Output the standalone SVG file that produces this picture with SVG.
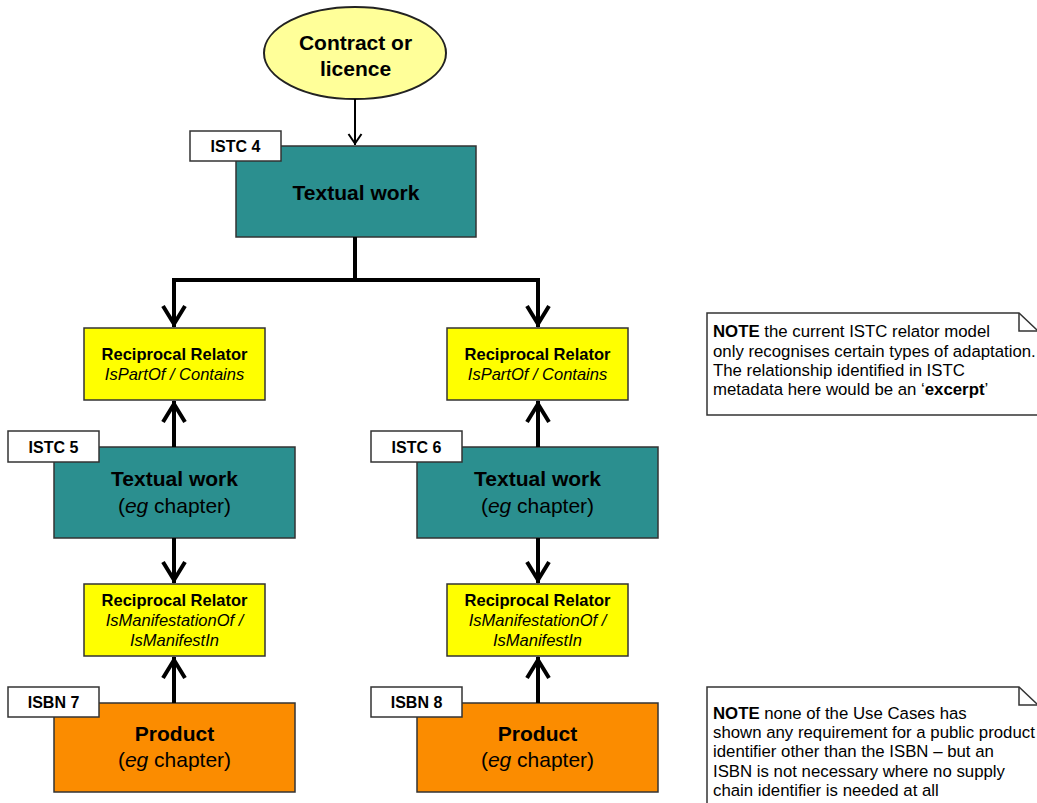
<svg xmlns="http://www.w3.org/2000/svg" width="1037" height="803" viewBox="0 0 1037 803">
<style>
text{font-family:"Liberation Sans",Arial,sans-serif;fill:#000}
.c{text-anchor:middle}
.b{font-weight:bold}
.i{font-style:italic}
.t21{font-size:21px}
.t16{font-size:16px;font-weight:bold}
.t165{font-size:16.5px}
.note{font-size:16.8px}
.work{fill:#2b8f8f;stroke:#333;stroke-width:1.5}
.rel{fill:#ffff00;stroke:#333;stroke-width:1.5}
.prod{fill:#fb8c00;stroke:#333;stroke-width:1.5}
.lbl{fill:#fff;stroke:#333;stroke-width:1.5}
.nbox{fill:#fff;stroke:#333;stroke-width:1.5}
.fold{fill:none;stroke:#333;stroke-width:1.5}
.thick{fill:none;stroke:#000;stroke-width:4;stroke-linejoin:miter}
.thin{fill:none;stroke:#000;stroke-width:2}
</style>
<defs>
<marker id="ah" viewBox="-26 -15 30 30" refX="0" refY="0" markerWidth="30" markerHeight="30" markerUnits="userSpaceOnUse" orient="auto">
<path d="M-21,-11 L-3,0 L-21,11" fill="none" stroke="#000" stroke-width="4"/>
</marker>
<marker id="ahs" viewBox="-14 -9 16 18" refX="0" refY="0" markerWidth="16" markerHeight="18" markerUnits="userSpaceOnUse" orient="auto">
<path d="M-11,-6.5 L-1.5,0 L-11,6.5" fill="none" stroke="#000" stroke-width="2"/>
</marker>
</defs>

<g id="contract">
<ellipse cx="355" cy="53" rx="91" ry="46" fill="#ffff99" stroke="#222" stroke-width="2"/>
<text class="c b t21" x="355.5" y="50">Contract or</text>
<text class="c b t21" x="355.5" y="76">licence</text>
</g>

<g id="work4">
<rect class="work" x="236" y="146" width="240" height="91"/>
<text class="c b t21" x="356" y="200">Textual work</text>
<rect class="lbl" x="190" y="131" width="91" height="30"/>
<text class="c t16" x="235.5" y="152">ISTC 4</text>
</g>

<g id="rel1">
<rect class="rel" x="84" y="328" width="181" height="72"/>
<text class="c b t165" x="174.5" y="360">Reciprocal Relator</text>
<text class="c i t165" x="174.5" y="380">IsPartOf / Contains</text>
</g>

<g id="rel2">
<rect class="rel" x="447" y="328" width="181" height="72"/>
<text class="c b t165" x="537.5" y="360">Reciprocal Relator</text>
<text class="c i t165" x="537.5" y="380">IsPartOf / Contains</text>
</g>

<g id="work5">
<rect class="work" x="54" y="447" width="241" height="91"/>
<text class="c b t21" x="174.5" y="486">Textual work</text>
<text class="c t21" x="174.5" y="513">(<tspan class="i">eg</tspan> chapter)</text>
<rect class="lbl" x="8" y="431" width="91" height="31"/>
<text class="c t16" x="53.5" y="452.5">ISTC 5</text>
</g>

<g id="work6">
<rect class="work" x="417" y="447" width="241" height="91"/>
<text class="c b t21" x="537.5" y="486">Textual work</text>
<text class="c t21" x="537.5" y="513">(<tspan class="i">eg</tspan> chapter)</text>
<rect class="lbl" x="371" y="431" width="91" height="31"/>
<text class="c t16" x="416.5" y="452.5">ISTC 6</text>
</g>

<g id="rel3">
<rect class="rel" x="84" y="584" width="181" height="72"/>
<text class="c b t165" x="174.5" y="606">Reciprocal Relator</text>
<text class="c i t165" x="174.5" y="626">IsManifestationOf /</text>
<text class="c i t165" x="174.5" y="646">IsManifestIn</text>
</g>

<g id="rel4">
<rect class="rel" x="447" y="584" width="181" height="72"/>
<text class="c b t165" x="537.5" y="606">Reciprocal Relator</text>
<text class="c i t165" x="537.5" y="626">IsManifestationOf /</text>
<text class="c i t165" x="537.5" y="646">IsManifestIn</text>
</g>

<g id="prod7">
<rect class="prod" x="54" y="703" width="241" height="89"/>
<text class="c b t21" x="174.5" y="741">Product</text>
<text class="c t21" x="174.5" y="767">(<tspan class="i">eg</tspan> chapter)</text>
<rect class="lbl" x="8" y="687" width="91" height="30"/>
<text class="c t16" x="53.5" y="708">ISBN 7</text>
</g>

<g id="prod8">
<rect class="prod" x="417" y="703" width="241" height="89"/>
<text class="c b t21" x="537.5" y="741">Product</text>
<text class="c t21" x="537.5" y="767">(<tspan class="i">eg</tspan> chapter)</text>
<rect class="lbl" x="371" y="687" width="91" height="30"/>
<text class="c t16" x="416.5" y="708">ISBN 8</text>
</g>

<g id="note1">
<path class="nbox" d="M707,313 H1019 L1038,331 V415 H707 Z"/>
<path class="fold" d="M1019,313 V331 H1038"/>
<text class="note" x="713" y="337"><tspan class="b">NOTE</tspan> the current ISTC relator model</text>
<text class="note" x="713" y="356.5">only recognises certain types of adaptation.</text>
<text class="note" x="713" y="376">The relationship identified in ISTC</text>
<text class="note" x="713" y="395">metadata here would be an ‘<tspan class="b">excerpt</tspan>’</text>
</g>

<g id="note2">
<path class="nbox" d="M707,687 H1019 L1038,705 V810 H707 Z"/>
<path class="fold" d="M1019,687 V705 H1038"/>
<text class="note" x="713" y="718.5"><tspan class="b">NOTE</tspan> none of the Use Cases has</text>
<text class="note" x="713" y="738">shown any requirement for a public product</text>
<text class="note" x="713" y="757">identifier other than the ISBN – but an</text>
<text class="note" x="713" y="776.5">ISBN is not necessary where no supply</text>
<text class="note" x="713" y="796">chain identifier is needed at all</text>
</g>

<g id="connectors">
<path class="thin" d="M355,99 V145" marker-end="url(#ahs)"/>
<path class="thick" d="M355,237 V280 H174 V327" marker-end="url(#ah)"/>
<path class="thick" d="M355,280 H538 V327" marker-end="url(#ah)"/>
<path class="thick" d="M174,447 V401" marker-end="url(#ah)"/>
<path class="thick" d="M538,447 V401" marker-end="url(#ah)"/>
<path class="thick" d="M174,538 V583" marker-end="url(#ah)"/>
<path class="thick" d="M538,538 V583" marker-end="url(#ah)"/>
<path class="thick" d="M174,703 V657" marker-end="url(#ah)"/>
<path class="thick" d="M538,703 V657" marker-end="url(#ah)"/>
</g>
</svg>
